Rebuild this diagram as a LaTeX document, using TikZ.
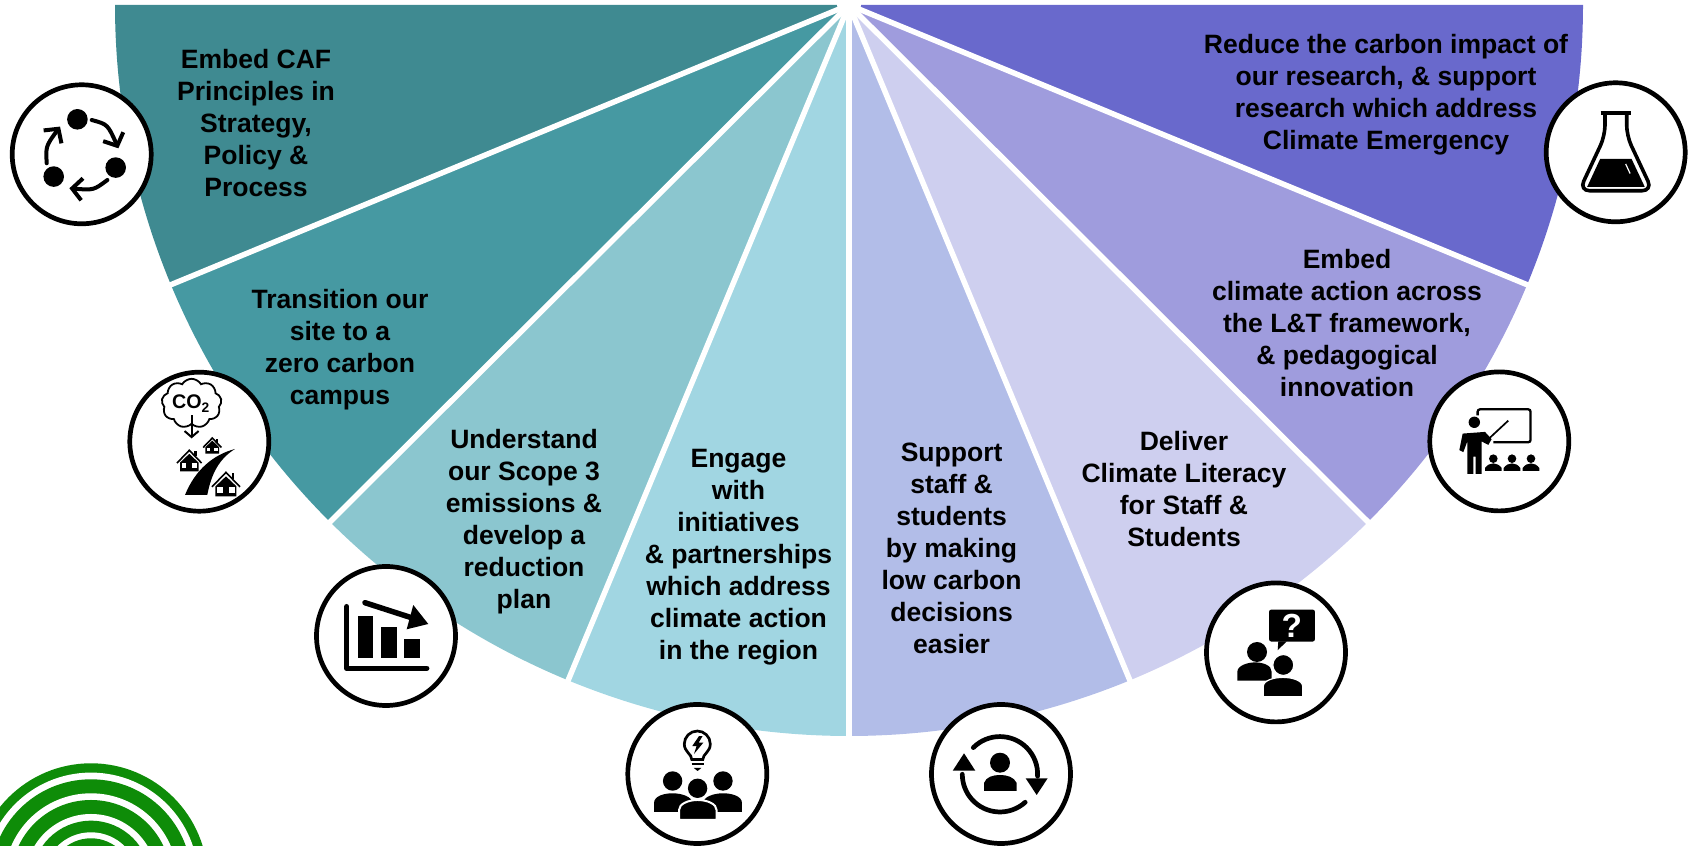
\documentclass[tikz,border=0pt]{standalone}
\usepackage{fontspec}
\setmainfont{Liberation Sans}
\usetikzlibrary{shapes.symbols,arrows.meta}
\definecolor{segA}{HTML}{3F8A91}
\definecolor{segB}{HTML}{4699A2}
\definecolor{segC}{HTML}{8BC6CF}
\definecolor{segD}{HTML}{A1D6E2}
\definecolor{segE}{HTML}{B2BDE8}
\definecolor{segF}{HTML}{CECFEF}
\definecolor{segG}{HTML}{9F9CDD}
\definecolor{segH}{HTML}{6969CC}
\definecolor{logoGreen}{HTML}{0E8C08}
\tikzset{
	sectortext/.style={align=center, text=black, font=\bfseries\fontsize{7.55}{9.1}\selectfont},
	iconring/.style={circle, draw=black, fill=white, line width=0.047cm, minimum size=1.39cm, inner sep=0pt},
	iconscope/.style={x=0.01cm, y=-0.01cm},
	sepline/.style={white, line width=0.055cm},
	housemark/.pic={
		\fill[black] (-10.5,13)--(-10.5,3)--(0,-7)--(10.5,3)--(10.5,13)--cycle;
		\fill[white] (-8.7,4) rectangle (-3.3,9.3);
		\fill[white] (3.3,4) rectangle (8.7,9.3);
		\draw[black, line width=0.016cm] (-14,3.5)--(0,-11)--(14,3.5);
		\fill[black] (5.7,-10) rectangle (8.3,-4);
	}
}

\begin{document}
\begin{tikzpicture}
\useasboundingbox (0,0) rectangle (16.88,8.46);
\coordinate (apex) at (8.49,8.41);

%sectors of the half disc
\foreach \ang/\col in {180/segA,202.5/segB,225/segC,247.5/segD,270/segE,292.5/segF,315/segG,337.5/segH}{
	\fill[\col] (apex)--++(\ang:7.34 and 7.31) arc[start angle=\ang, delta angle=22.5, x radius=7.34, y radius=7.31]--cycle;
}
\foreach \ang in {202.5,225,...,337.5}{
	\draw[sepline] (apex)--++(\ang:7.42 and 7.39);
}
\fill[white] (apex) circle (0.12);

\node[sectortext] (embedcaf) at (2.56,7.233) {Embed CAF\\Principles in\\Strategy,\\Policy \&\\Process};
\node[sectortext] (zerocampus) at (3.40,4.96) {Transition our\\site to a\\zero carbon\\campus};
\node[sectortext] (scopethree) at (5.24,3.24) {Understand\\our Scope 3\\emissions \&\\develop a\\reduction\\plan};
\node[sectortext] (partners) at (7.385,2.89) {Engage\\with\\initiatives\\\& partnerships\\which address\\climate action\\in the region};
\node[sectortext] (lowcarbon) at (9.516,2.98) {Support\\staff \&\\students\\by making\\low carbon\\decisions\\easier};
\node[sectortext] (literacy) at (11.84,3.57) {Deliver\\Climate Literacy\\for Staff \&\\Students};
\node[sectortext] (framework) at (13.47,5.23) {Embed\\climate action across\\the L\&T framework,\\\& pedagogical\\innovation};
\node[sectortext] (research) at (13.86,7.515) {Reduce the carbon impact of\\our research, \& support\\research which address\\Climate Emergency};

%logo in the corner
\begin{scope}
\clip (0,0) rectangle (16.88,8.46);
\foreach \rad/\col in {1.167/logoGreen,1.074/white,1.007/logoGreen,0.867/white,0.80/logoGreen,0.66/white,0.593/logoGreen,0.477/white,0.417/logoGreen}{
	\fill[\col] (0.91,-0.34) circle (\rad);
}
\end{scope}

\node[iconring] (cycleicon) at (0.817,6.917) {};
\node[iconring] (houseicon) at (1.993,4.043) {};
\node[iconring] (charticon) at (3.86,2.10) {};
\node[iconring] (bulbicon) at (6.973,0.72) {};
\node[iconring] (turnicon) at (10.01,0.72) {};
\node[iconring] (asking) at (12.76,1.936) {};
\node[iconring] (teacher) at (14.993,4.046) {};
\node[iconring] (flask) at (16.157,6.937) {};

%three dots in a loop
\begin{scope}[shift={(cycleicon)}, iconscope]
\fill[black] (-4.3,-35) circle (10.3);
\fill[black] (34,13.3) circle (10.3);
\fill[black] (-28,22.3) circle (10.3);
\draw[black, line width=0.04cm, line cap=round, -{Straight Barb[length=0.1cm, width=0.22cm]}] (10,-34.3) .. controls (26,-30) .. (36.7,-6);
\draw[black, line width=0.04cm, line cap=round, -{Straight Barb[length=0.1cm, width=0.22cm]}] (25.7,25.7) .. controls (12,36) .. (-12.3,34);
\draw[black, line width=0.04cm, line cap=round, -{Straight Barb[length=0.1cm, width=0.22cm]}] (-35,9) .. controls (-36,-8) .. (-21.7,-27.7);
\end{scope}

%cloud over the houses
\begin{scope}[shift={(houseicon)}, iconscope]
\node[cloud, draw=black, cloud puffs=9, cloud puff arc=120, aspect=1.35, line width=0.018cm, inner sep=0pt, minimum width=0.6cm, minimum height=0.43cm, font=\bfseries\fontsize{5.6}{6}\selectfont] (cotwo) at (-7.7,-38.3) {CO\textsubscript{2}};
\draw[black, line width=0.02cm, -{Straight Barb[length=0.06cm, width=0.14cm]}] (-7.7,-26.7)--(-7.7,-3.3);
\fill[black] (-14.3,53.3) .. controls (-4,28) and (14,13) .. (35.7,7.3) .. controls (20,17) and (12,32) .. (8,53.3)--cycle;
\pic[scale=1] at (26.7,41.7) {housemark};
\pic[scale=0.88] at (-10,18.3) {housemark};
\pic[scale=0.65] at (13,3.5) {housemark};
\end{scope}

%falling bars
\begin{scope}[shift={(charticon)}, iconscope]
\draw[black, line width=0.055cm, line cap=round, line join=round] (-39.3,-29.3)--(-39.3,32.3)--(40.7,32.3);
\fill[black] (-28.3,-20) rectangle (-12.7,22.3);
\fill[black] (-5,-8.7) rectangle (11.3,22.3);
\fill[black] (18,3.3) rectangle (34,22.3);
\draw[black, line width=0.055cm, line cap=round] (-21,-33.3)--(27.3,-17.7);
\fill[black] (42.3,-12)--(27.3,-31)--(20.7,-6.7)--cycle;
\end{scope}

%bulb and three people
\begin{scope}[shift={(bulbicon)}, iconscope]
\draw[black, line width=0.027cm] (-5.5,-14.5) .. controls (-5.5,-20) and (-13,-22) .. (-13,-30) arc[start angle=180, end angle=360, radius=13] .. controls (13,-22) and (5.5,-20) .. (5.5,-14.5)--cycle;
\fill[black] (1.7,-38)--(-5,-28)--(-0.7,-28)--(-3.3,-20)--(6,-31.3)--(1.3,-31.3)--(5.3,-38)--cycle;
\draw[black, line width=0.02cm] (-5.7,-9.7)--(6.7,-9.7);
\fill[black] (-3.5,-6)--(4,-6)--(0.3,-3)--cycle;
\fill[black] (-24.7,7) circle (9.7);
\fill[black] (25.7,7) circle (9.7);
\fill[black] (-43.3,38)--(-43.3,29) .. controls (-43.3,22) and (-33,19.3) .. (-25,19.3) .. controls (-15,19.3) and (-5,23) .. (-5,29)--(-5,38)--cycle;
\fill[black] (44.7,38)--(44.7,29) .. controls (44.7,22) and (34,19.3) .. (26,19.3) .. controls (16,19.3) and (6,23) .. (6,29)--(6,38)--cycle;
\filldraw[fill=black, draw=white, line width=0.02cm] (-18.3,45.8)--(-18.3,36) .. controls (-18.3,30) and (-9,26) .. (0.3,26) .. controls (10,26) and (19.3,30) .. (19.3,36)--(19.3,45.8)--cycle;
\fill[black] (0.3,14.3) circle (9.7);
\end{scope}

%person between two turning arrows
\begin{scope}[shift={(turnicon)}, iconscope]
\fill[black] (-1,-11.3) circle (10);
\fill[black] (-17,17)--(-17,9) .. controls (-15,3) and (-8,1) .. (-1,1) .. controls (6,1) and (13,3) .. (15.7,9)--(15.7,17)--cycle;
\draw[black, line width=0.047cm, line cap=round] (-27.7,-26.4) arc[start angle=225, end angle=363, radius=37.7];
\fill[black] (35.7,21)--(24.7,4.3)--(46.7,4.3)--cycle;
\draw[black, line width=0.047cm, line cap=round] (24.2,28.3) arc[start angle=48, end angle=180, radius=37.7];
\fill[black] (-37,-20.7)--(-48.3,-3.3)--(-25.7,-3.3)--cycle;
\end{scope}

%two people and a question
\begin{scope}[shift={(asking)}, iconscope]
\fill[black, rounded corners=0.7] (-7,-42.9) rectangle (39,-10.8);
\fill[black] (2.3,-11)--(1.7,-2.2)--(10.7,-11)--cycle;
\node[text=white, inner sep=0pt, font=\bfseries\fontsize{9.5}{10}\selectfont] (askmark) at (15.7,-27) {?};
\fill[black] (-19,-0.4) circle (10);
\fill[black] (-38.7,28.2)--(-38.7,19.5) .. controls (-38.7,13) and (-28,10) .. (-21,10) .. controls (-13,10) and (-4.3,13) .. (-4.3,19.5)--(-4.3,28.2)--cycle;
\filldraw[fill=black, draw=white, line width=0.012cm] (7.3,12.6) circle (10.5);
\filldraw[fill=black, draw=white, line width=0.012cm] (-12.7,44.3)--(-12.7,34) .. controls (-12.7,28) and (-2,25) .. (7,25) .. controls (16,25) and (26.7,28) .. (26.7,34)--(26.7,44.3)--cycle;
\end{scope}

%teacher at the board
\begin{scope}[shift={(teacher)}, iconscope]
\draw[black, line width=0.023cm, rounded corners=0.7] (-21.7,-26)--(-21.7,-32.1)--(31.3,-32.1)--(31.3,0.9)--(-6,0.9);
\draw[black, line width=0.017cm] (-11,-2.2)--(9,-20.8);
\fill[black] (-25,-19.1) circle (5.7);
\fill[black] (-40,8.7)--(-36.7,-7.8)--(-14.3,-9.5)--(-7.7,-2.2)--(-11,3.5)--(-17.7,0)--(-17.7,32.5)--(-23.7,32.5)--(-23.7,15.2)--(-26,15.2)--(-26,32.5)--(-32,32.5)--(-32,0)--(-36,10.8)--cycle;
\foreach \x in {-6,12.7,31.7}{
	\fill[black] (\x,17.3) circle (4.3);
	\fill[black] (\x-8.3,29.5)--(\x-8.3,26.5) .. controls (\x-6,23.5) and (\x-3,22) .. (\x,22) .. controls (\x+3,22) and (\x+6,23.5) .. (\x+8.3,26.5)--(\x+8.3,29.5)--cycle;
}
\end{scope}

%flask
\begin{scope}[shift={(flask)}, iconscope]
\draw[black, line width=0.036cm] (-15,-39.4)--(15.3,-39.4);
\draw[black, line width=0.036cm, rounded corners=3] (-10.7,-39)--(-10.7,-16.5)--(-36.5,38.5)--(36.8,38.5)--(11,-16.5)--(11,-39);
\fill[black] (-15.5,6.5)--(15.8,6.5)--(29,34.5)--(-28.5,34.5)--cycle;
\draw[white, line width=0.012cm, dashed] (10,11.7)--(16,24.7);
\end{scope}
\end{tikzpicture}
\end{document}
